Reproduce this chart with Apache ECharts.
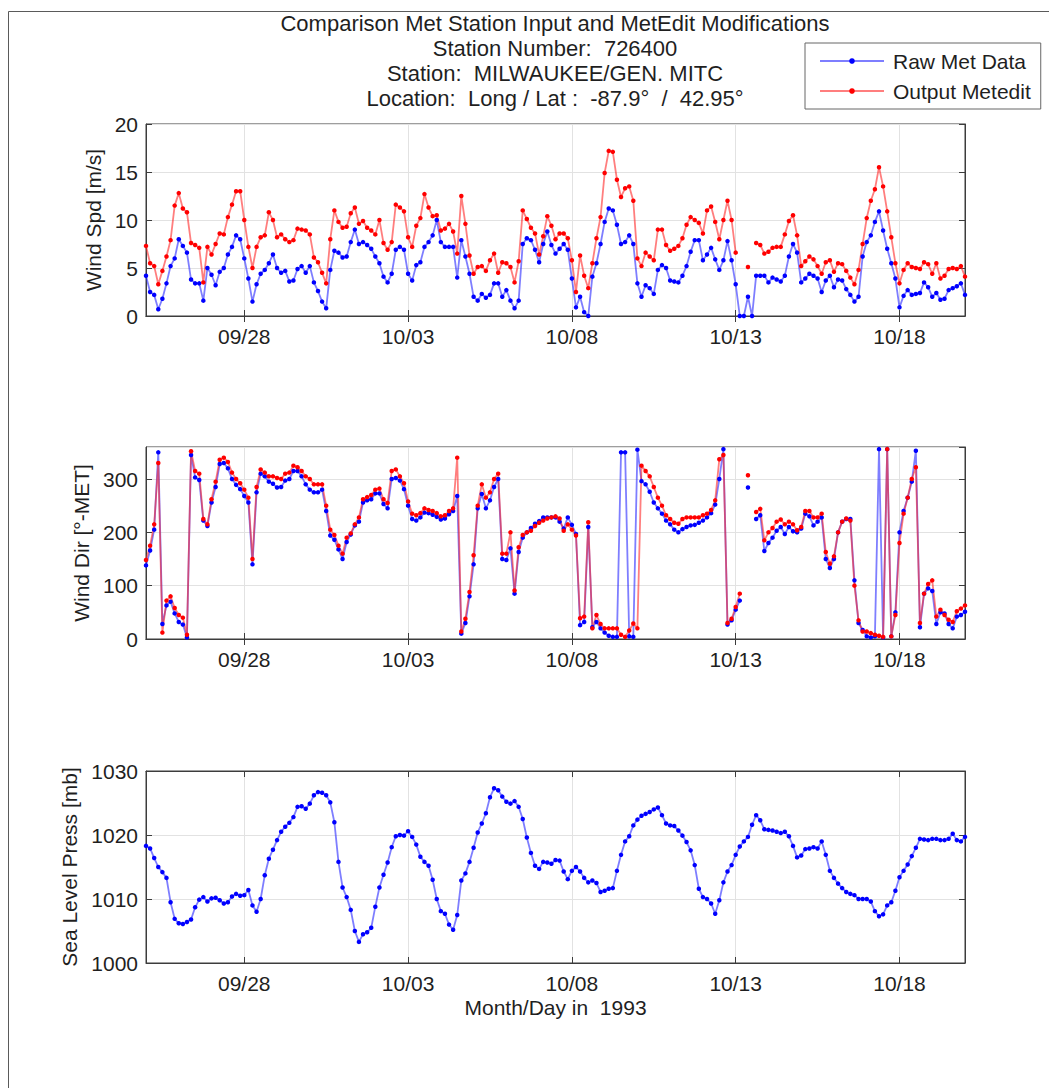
<!DOCTYPE html>
<html><head><meta charset="utf-8">
<script src="https://cdn.jsdelivr.net/npm/echarts@6/dist/echarts.min.js"></script>
<style>html,body{margin:0;padding:0;background:#fff}#c{width:1049px;height:1088px}</style>
</head><body><div id="c"></div>
<script>
// ---- data (3-hourly samples from 1993-09-25 00:00 to 1993-10-20 00:00) ----
const startDateUTC = Date.UTC(1993, 8, 25, 0, 0);
const stepHours = 3;
const tickLabels = ['09/28', '10/03', '10/08', '10/13', '10/18'];

const windSpdRaw = [
4.2,2.5,2.2,0.7,1.8,3.4,5.2,6.0,8.0,7.3,
6.6,3.8,3.4,3.4,1.6,5.0,4.3,3.2,4.6,5.0,
6.4,7.2,8.4,8.0,6.0,3.9,1.5,3.3,4.4,4.8,
5.5,6.4,5.0,4.5,4.7,3.6,3.7,4.9,5.2,4.5,
5.2,3.5,2.6,1.5,0.8,4.8,6.8,6.6,6.1,6.2,
7.7,9.0,7.5,7.7,7.4,7.0,6.2,5.5,4.1,3.5,
4.4,6.9,7.2,6.9,4.4,3.7,5.3,5.6,7.2,7.7,
8.4,10.0,7.7,7.2,7.2,7.2,4.0,7.9,6.2,4.4,
2.0,1.6,2.3,1.9,2.2,3.4,3.4,2.0,2.7,1.6,
0.8,1.6,7.5,8.1,7.9,6.9,5.6,7.5,8.8,7.4,
6.5,7.0,7.5,6.9,3.9,0.9,2.0,0.4,0,4.1,
5.5,7.5,9.8,11.2,11.0,9.5,7.5,7.7,8.4,7.5,
3.4,2.0,3.2,2.9,2.3,4.8,5.3,5.0,3.7,3.6,
3.5,4.2,5.2,6.7,7.9,7.9,5.8,6.4,7.1,5.9,
4.8,5.8,7.8,5.8,3.3,0,0,2.0,0,4.2,
4.2,4.2,3.5,4.0,3.8,3.6,4.2,6.2,7.5,6.6,
3.5,3.9,4.4,4.2,3.9,2.5,3.7,4.2,3.0,3.8,
3.7,2.8,2.2,1.5,2.0,6.2,7.7,8.4,9.8,10.9,
8.9,7.0,5.5,3.9,0.9,2.1,2.7,2.2,2.3,2.4,
3.5,3.0,2.0,2.4,1.7,1.8,2.7,2.9,3.1,3.4,
2.2];

const windSpdOut = [
7.3,5.5,5.2,3.3,4.7,6.2,7.9,11.5,12.8,11.2,
10.8,7.6,7.4,7.1,3.5,7.2,6.4,7.5,8.6,8.5,
10.3,11.6,13.0,13.0,10.0,7.2,5.0,7.2,8.2,8.4,
10.8,10.0,8.2,8.5,8.0,7.7,7.9,9.1,9.0,8.9,
8.5,6.1,5.6,4.5,3.4,8.0,11.0,9.8,9.2,9.3,
10.7,11.3,9.6,9.9,9.2,8.9,8.5,10.0,7.6,6.9,
7.7,11.6,11.3,10.9,8.2,7.2,9.4,10.2,12.7,11.3,
10.4,10.5,8.9,9.1,9.6,8.8,6.5,12.5,9.6,6.3,
4.4,5.1,5.2,4.7,5.8,6.5,4.5,5.6,5.5,5.1,
3.5,5.7,11.0,10.1,9.2,8.6,6.4,8.3,10.4,9.4,
8.0,8.6,8.6,8.1,5.8,2.5,6.3,4.2,2.9,5.5,
8.1,10.3,14.9,17.2,17.1,14.2,12.4,13.3,13.5,12.0,
6.0,5.2,6.6,6.2,5.8,9.0,9.0,7.4,6.8,7.0,
7.3,8.1,9.5,10.3,10.0,9.7,8.6,11.0,11.4,9.8,
8.0,10.0,12.0,10.0,6.6,null,null,5.1,null,7.6,
7.4,6.5,6.7,7.1,7.2,7.2,8.5,9.9,10.5,8.4,
5.2,5.7,6.2,5.9,5.2,4.4,5.6,5.8,4.6,5.5,
5.4,4.7,4.0,3.3,4.8,7.5,10.2,12.0,13.2,15.5,
13.5,10.9,8.2,5.5,3.4,4.8,5.5,5.1,5.0,4.9,
5.6,5.4,4.4,5.5,3.9,4.2,4.9,5.0,4.9,5.2,
4.1];

const windDirRaw = [
138,166,205,350,28,63,70,48,32,27,
3,345,303,298,222,212,256,285,328,330,
320,300,289,281,268,256,140,275,310,305,
295,291,284,285,297,300,315,315,305,290,
280,275,275,280,240,194,186,168,150,182,
196,213,220,256,260,262,273,273,253,245,
300,302,297,281,250,225,222,228,237,236,
233,229,224,226,234,240,268,10,30,80,
140,245,272,245,260,285,300,150,148,170,
85,163,190,200,208,216,221,228,228,228,
228,220,207,228,214,197,26,32,210,22,
32,20,12,6,4,4,350,350,5,4,
355,296,290,276,256,245,235,222,215,205,
200,206,210,213,214,218,222,228,236,252,
300,356,27,35,55,72,null,284,null,225,
232,165,180,190,203,210,197,210,202,200,
207,235,230,213,220,228,150,133,150,200,
220,225,225,110,30,17,5,3,5,356,
3,356,5,50,200,240,265,295,353,22,
85,95,90,28,50,48,28,20,42,45,
51];

const windDirOut = [
148,175,215,330,12,72,80,58,45,40,
8,352,315,310,225,215,262,295,336,340,
332,312,300,292,280,265,150,285,318,312,
305,305,302,300,310,312,325,322,315,305,
300,290,290,290,250,205,195,175,160,190,
198,215,228,262,266,270,280,282,262,255,
315,318,305,292,258,235,232,236,245,242,
240,236,230,232,240,245,340,14,38,88,
157,250,290,265,275,300,310,160,160,200,
91,172,195,200,203,212,218,222,226,228,
230,226,203,215,205,194,39,42,219,20,
45,28,20,20,20,20,8,4,16,29,
20,325,315,305,285,265,250,232,225,218,
216,225,228,228,228,228,232,235,242,260,
337,345,30,38,60,85,null,307,null,238,
244,185,200,208,220,224,215,220,215,204,
210,240,240,228,228,235,163,141,155,200,
220,226,222,100,35,14,14,11,8,6,
4,356,5,45,180,235,265,300,322,30,
85,103,110,42,55,45,36,32,52,57,
63];

const seaLevelPress = [
1018.3,1017.9,1016.4,1015.0,1014.2,1013.3,1009.5,1006.9,1006.2,1006.1,
1006.4,1006.8,1008.7,1009.9,1010.3,1009.6,1010.1,1010.2,1009.8,1009.3,
1009.5,1010.4,1010.8,1010.5,1010.6,1011.4,1009.0,1008.0,1010.0,1013.7,
1016.3,1017.7,1019.2,1020.5,1021.3,1021.9,1022.8,1024.4,1024.5,1024.1,
1024.9,1026.2,1026.7,1026.6,1026.2,1025.1,1022.0,1015.8,1011.8,1010.3,
1008.3,1005.0,1003.3,1004.5,1004.8,1005.5,1008.8,1011.8,1013.8,1015.7,
1018.1,1019.8,1020.0,1019.9,1020.6,1019.7,1018.5,1016.6,1015.8,1015.2,
1013.0,1010.0,1008.1,1007.7,1006.0,1005.2,1007.5,1012.9,1014.0,1015.8,
1018.0,1020.4,1021.8,1023.4,1025.9,1027.3,1027.0,1026.0,1025.2,1024.9,
1025.3,1024.4,1022.5,1019.6,1017.2,1015.2,1014.7,1015.8,1015.7,1015.5,
1016.1,1016.0,1014.3,1013.1,1014.4,1015.0,1014.3,1013.3,1012.6,1012.9,
1012.5,1011.1,1011.3,1011.6,1011.7,1014.4,1016.9,1019.0,1019.8,1021.5,
1022.4,1023.0,1023.3,1023.6,1024.0,1024.3,1023.1,1021.8,1021.5,1021.4,
1020.7,1019.9,1018.9,1017.6,1015.3,1011.6,1010.3,1010.0,1009.3,1007.7,
1009.8,1012.6,1014.3,1015.3,1016.9,1018.2,1019.0,1019.7,1021.6,1023.1,
1022.3,1020.9,1020.8,1020.7,1020.5,1020.3,1020.5,1019.8,1018.3,1016.5,
1016.8,1017.8,1017.9,1018.1,1017.9,1019.0,1016.9,1014.4,1013.3,1012.4,
1011.7,1011.1,1010.8,1010.6,1010.0,1010.0,1010.0,1009.6,1008.1,1007.3,
1007.6,1009.0,1009.5,1011.3,1013.4,1014.4,1015.4,1016.7,1018.0,1019.4,
1019.3,1019.2,1019.4,1019.4,1019.2,1019.2,1019.4,1020.2,1019.2,1019.0,
1019.7];

const titleLines = [
  'Comparison Met Station Input and MetEdit Modifications',
  'Station Number:  726400',
  'Station:  MILWAUKEE/GEN. MITC',
  'Location:  Long / Lat :  -87.9\u00b0  /  42.95\u00b0'
];
const seriesNames = ['Raw Met Data', 'Output Metedit'];

// ---- categories (time stamps) ----
const pad = n => (n < 10 ? '0' : '') + n;
const categories = windSpdRaw.map((_, i) => {
  const d = new Date(startDateUTC + i * stepHours * 3600e3);
  return pad(d.getUTCMonth() + 1) + '/' + pad(d.getUTCDate()) + ' ' + pad(d.getUTCHours()) + ':00';
});
const isTick = (idx) => {
  const c = categories[idx];
  return c.endsWith(' 00:00') && tickLabels.includes(c.slice(0, 5));
};

// ---- styles ----
const FONT = '"Liberation Sans", Arial, Helvetica, sans-serif';
const TXT = '#1f1f1f';
const AX = '#3c3c3c';
const GRIDC = '#e2e2e2';
const BLUE = '#0000ff', RED = '#ff0000';
const BLUE_LINE = 'rgba(40,40,255,0.6)', RED_LINE = 'rgba(255,40,40,0.6)';

const grids = [
  { left: 146, width: 819, top: 124, height: 192 },
  { left: 146, width: 819, top: 447, height: 192 },
  { left: 146, width: 819, top: 771, height: 192 }
].map(g => Object.assign(g, { show: true, borderColor: AX, borderWidth: 1, backgroundColor: '#fff' }));

const xAxes = [];
const yAxes = [];
const yConf = [
  { min: 0, max: 20, interval: 5, name: 'Wind Spd [m/s]', gap: 40 },
  { min: 0, max: 360, interval: 100, name: 'Wind Dir [\u00b0-MET]', gap: 53 },
  { min: 1000, max: 1030, interval: 10, name: 'Sea Level Press [mb]', gap: 64 }
];
for (let g = 0; g < 3; g++) {
  const base = {
    type: 'category', gridIndex: g, data: categories, boundaryGap: false,
    axisLine: { show: true, lineStyle: { color: AX, width: 1 } },
    axisTick: { show: true, inside: true, length: 6, interval: isTick, lineStyle: { color: AX } }
  };
  xAxes.push(Object.assign({}, base, {
    position: 'bottom',
    axisLabel: { show: true, interval: isTick, formatter: v => v.slice(0, 5), fontSize: 21, color: TXT, fontFamily: FONT, margin: 10 },
    splitLine: { show: true, interval: isTick, lineStyle: { color: GRIDC, width: 1 } },
    name: g === 2 ? 'Month/Day in  1993' : '',
    nameLocation: 'middle', nameGap: 34,
    nameTextStyle: { fontSize: 21, color: TXT, fontFamily: FONT }
  }));
  xAxes.push(Object.assign({}, base, {
    position: 'top',
    axisLabel: { show: false }, splitLine: { show: false }
  }));
  const c = yConf[g];
  yAxes.push({
    type: 'value', gridIndex: g, position: 'left', min: c.min, max: c.max, interval: c.interval,
    axisLine: { show: true, lineStyle: { color: AX } },
    axisTick: { show: true, inside: true, length: 6, lineStyle: { color: AX } },
    axisLabel: { fontSize: 21, color: TXT, fontFamily: FONT, margin: 8, showMaxLabel: g !== 1, formatter: v => String(v) },
    splitLine: { show: true, lineStyle: { color: GRIDC, width: 1 } },
    name: c.name, nameLocation: 'middle', nameGap: c.gap,
    nameTextStyle: { fontSize: 21, color: TXT, fontFamily: FONT }
  });
  yAxes.push({
    type: 'value', gridIndex: g, position: 'right', min: c.min, max: c.max, interval: c.interval,
    axisLine: { show: true, lineStyle: { color: AX } },
    axisTick: { show: true, inside: true, length: 6, lineStyle: { color: AX } },
    axisLabel: { show: false }, splitLine: { show: false }
  });
}

function mkSeries(name, data, g, color, lineColor) {
  return {
    type: 'line', name, data, xAxisIndex: 2 * g, yAxisIndex: 2 * g,
    symbol: 'circle', symbolSize: 4.5, showSymbol: true, showAllSymbol: true,
    connectNulls: false, animation: false,
    lineStyle: { color: lineColor, width: 1.8 },
    itemStyle: { color },
    emphasis: { disabled: true }
  };
}

const series = [
  mkSeries(seriesNames[0], windSpdRaw, 0, BLUE, BLUE_LINE),
  mkSeries(seriesNames[1], windSpdOut, 0, RED, RED_LINE),
  mkSeries(seriesNames[0], windDirRaw, 1, BLUE, BLUE_LINE),
  mkSeries(seriesNames[1], windDirOut, 1, RED, RED_LINE),
  mkSeries(seriesNames[0], seaLevelPress, 2, BLUE, BLUE_LINE)
];

const chart = echarts.init(document.getElementById('c'), null, { renderer: 'svg' });
chart.setOption({
  animation: false,
  backgroundColor: '#fff',
  textStyle: { fontFamily: FONT },
  title: {
    text: titleLines.join('\n'),
    left: 555, top: 11, padding: 0, textAlign: 'center',
    textStyle: { fontSize: 22, fontWeight: 'normal', color: TXT, fontFamily: FONT, lineHeight: 25 }
  },
  legend: {
    data: seriesNames, orient: 'vertical', left: 805, top: 43,
    padding: [6, 10, 6, 14], itemWidth: 64, itemHeight: 7, itemGap: 6,
    borderColor: '#666', borderWidth: 1, backgroundColor: '#fff',
    textStyle: { fontSize: 21, color: TXT, fontFamily: FONT, lineHeight: 24, padding: [0, 0, 0, 4] },
    selectedMode: false
  },
  graphic: [{
    type: 'rect', silent: true, z: -10,
    shape: { x: 8.5, y: 11.5, width: 1200, height: 1200 },
    style: { fill: 'none', stroke: '#5a5a5a', lineWidth: 1 }
  }],
  grid: grids,
  xAxis: xAxes,
  yAxis: yAxes,
  series
});
</script></body></html>
